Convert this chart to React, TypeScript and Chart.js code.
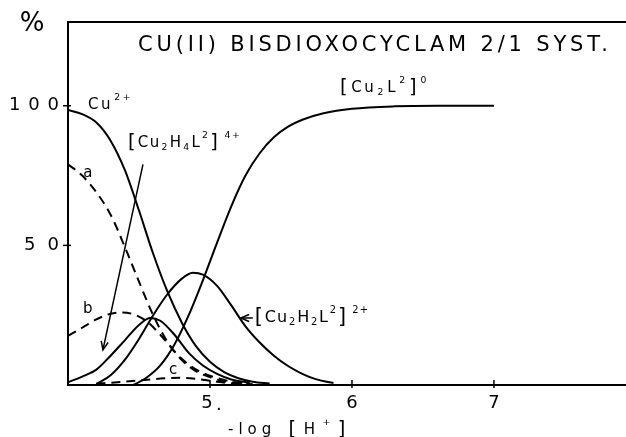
import React, { useEffect, useRef } from "react";
import { Chart, registerables } from "chart.js";

Chart.register(...registerables);

// ---- data (x = -log[H+], y = %) ----
const cuFreeX = [4.0, 4.1, 4.2, 4.3, 4.4, 4.5, 4.6, 4.7, 4.8, 4.9, 5.0, 5.1, 5.2, 5.3, 5.42];
const cuFreeY = [98.5, 97, 94, 87.5, 77, 62.5, 47, 33.5, 22.5, 14, 8.3, 4.6, 2.4, 1.2, 0.5];

const cu2L2X = [4.46, 4.55, 4.65, 4.75, 4.85, 4.95, 5.05, 5.15, 5.25, 5.35, 5.45, 5.55, 5.65, 5.8, 6.0, 6.3, 6.6, 7.0];
const cu2L2Y = [0, 2.5, 7, 14.5, 25, 37.5, 51, 64, 75, 83, 88.7, 92.5, 95, 97.3, 98.9, 99.8, 100, 100];

const cu2H2L2X = [4.2, 4.3, 4.4, 4.5, 4.6, 4.7, 4.8, 4.88, 4.95, 5.05, 5.15, 5.25, 5.35, 5.45, 5.55, 5.65, 5.75, 5.87];
const cu2H2L2Y = [0.3, 3.5, 9, 16.5, 25, 32.5, 38, 40.2, 39.5, 35.5, 28.5, 21, 15.2, 10.5, 6.8, 4, 2, 0.7];

const cu2H4L2X = [4.0, 4.1, 4.2, 4.3, 4.4, 4.5, 4.58, 4.65, 4.75, 4.85, 4.95, 5.05, 5.15, 5.28];
const cu2H4L2Y = [1, 3, 5.5, 10.5, 16, 21.5, 24, 23, 18, 11.5, 7, 4, 2, 0.8];

const curveAX = [4.0, 4.1, 4.2, 4.3, 4.4, 4.5, 4.6, 4.7, 4.8, 4.9, 5.0, 5.1, 5.3];
const curveAY = [79, 75, 69, 61, 49.5, 37, 25, 15.5, 9, 5, 2.8, 1.3, 0.3];

const curveBX = [4.0, 4.1, 4.2, 4.3, 4.38, 4.45, 4.55, 4.65, 4.75, 4.85, 4.95, 5.05, 5.15, 5.28];
const curveBY = [17.6, 20.5, 23.5, 25.5, 26, 25.5, 23, 18, 12, 7.3, 4.3, 2.5, 1.2, 0.5];

const curveCX = [4.2, 4.35, 4.5, 4.65, 4.8, 4.93, 5.05, 5.16, 5.28];
const curveCY = [0.5, 1, 1.6, 2.3, 2.6, 2, 1.2, 0.5, 0.2];

const xTicks = [5, 6, 7];
const xTickLabels = ["5.", "6", "7"];
const yTicks = [50, 100];
const yTickLabels = ["50", "100"];

const titleText = "CU(II) BISDIOXOCYCLAM 2/1 SYST.";
const xAxisTitle = "-log";
const yAxisTitle = "%";

const FONT = '"DejaVu Sans", "Liberation Sans", sans-serif';

type Part = [string, "n" | "sub" | "sup" | "br"];

function pts(xs: number[], ys: number[]) {
  return xs.map((x, i) => ({ x, y: ys[i] }));
}

function drawRich(ctx: CanvasRenderingContext2D, parts: Part[], x: number, y: number, size: number, spacing = 1.5) {
  let cx = x;
  ctx.textAlign = "left";
  ctx.textBaseline = "middle";
  for (const [t, k] of parts) {
    let fs = size;
    let dy = 0;
    if (k === "sub") { fs = size * 0.62; dy = size * 0.3; }
    else if (k === "sup") { fs = size * 0.62; dy = -size * 0.5; }
    else if (k === "br") { fs = size * 1.3; dy = 0; }
    ctx.font = `${fs}px ${FONT}`;
    (ctx as any).letterSpacing = `${spacing}px`;
    ctx.fillText(t, cx, y + dy);
    cx += ctx.measureText(t).width + spacing * 0.5;
  }
  (ctx as any).letterSpacing = "0px";
}

function drawFit(ctx: CanvasRenderingContext2D, text: string, left: number, right: number, y: number, size: number) {
  ctx.font = `${size}px ${FONT}`;
  (ctx as any).letterSpacing = "0px";
  const w = ctx.measureText(text).width;
  const sp = (right - left - w) / Math.max(1, text.length - 1);
  (ctx as any).letterSpacing = `${sp}px`;
  ctx.textAlign = "left";
  ctx.textBaseline = "middle";
  ctx.fillText(text, left, y);
  (ctx as any).letterSpacing = "0px";
}

function arrow(ctx: CanvasRenderingContext2D, x1: number, y1: number, x2: number, y2: number) {
  ctx.beginPath();
  ctx.moveTo(x1, y1);
  ctx.lineTo(x2, y2);
  ctx.stroke();
  const a = Math.atan2(y2 - y1, x2 - x1);
  const L = 9, w = 0.4;
  ctx.beginPath();
  ctx.moveTo(x2 - L * Math.cos(a - w), y2 - L * Math.sin(a - w));
  ctx.lineTo(x2, y2);
  ctx.lineTo(x2 - L * Math.cos(a + w), y2 - L * Math.sin(a + w));
  ctx.stroke();
}

const framePlugin = {
  id: "frame",
  afterDraw(chart: any) {
    const ctx: CanvasRenderingContext2D = chart.ctx;
    const { left, right, top, bottom } = chart.chartArea;
    const xs = chart.scales.x;
    const ys = chart.scales.y;
    const X = (v: number) => xs.getPixelForValue(v);
    const Y = (v: number) => ys.getPixelForValue(v);
    ctx.save();
    ctx.strokeStyle = "#000";
    ctx.fillStyle = "#000";
    ctx.lineWidth = 2;
    ctx.setLineDash([]);
    // frame: left, top, bottom
    ctx.beginPath();
    ctx.moveTo(right, top);
    ctx.lineTo(left, top);
    ctx.lineTo(left, bottom);
    ctx.lineTo(right, bottom);
    ctx.stroke();
    // x ticks
    ctx.lineWidth = 1.5;
    xTicks.forEach((v, i) => {
      const px = X(v);
      ctx.beginPath();
      ctx.moveTo(px, bottom - 5);
      ctx.lineTo(px, bottom + 3);
      ctx.stroke();
      ctx.font = `18px ${FONT}`;
      ctx.textAlign = "center";
      ctx.textBaseline = "middle";
      (ctx as any).letterSpacing = "0px";
      const lbl = xTickLabels[i];
      if (lbl.endsWith(".")) {
        ctx.textAlign = "center";
        ctx.fillText(lbl.slice(0, -1), px - 3, bottom + 18);
        ctx.textAlign = "left";
        ctx.fillText(".", px + 6, bottom + 20);
      } else {
        ctx.fillText(lbl, px, bottom + 18);
      }
    });
    // y ticks
    yTicks.forEach((v, i) => {
      const py = Y(v);
      ctx.beginPath();
      ctx.moveTo(left - 5, py);
      ctx.lineTo(left + 3, py);
      ctx.stroke();
      const lbl = yTickLabels[i];
      const w = lbl.length === 3 ? 50 : 35;
      drawFit(ctx, lbl, left - 9 - w, left - 9, py, 18);
    });
    // % sign
    ctx.font = `26px ${FONT}`;
    ctx.textAlign = "center";
    ctx.textBaseline = "middle";
    ctx.fillText(yAxisTitle, 32, 24);
    // title
    drawFit(ctx, titleText, 138, 608, 46, 21);
    // x axis title
    drawRich(ctx, [[xAxisTitle + " ", "n"], ["[", "br"], ["H", "n"], ["+", "sup"], ["]", "br"]], 228, bottom + 45, 15, 5);

    // series labels
    drawRich(ctx, [["[", "br"], ["Cu", "n"], ["2", "sub"], ["L", "n"], ["2", "sup"], ["]", "br"], ["0", "sup"]], X(4.0) + 272, 88, 15, 2.5);
    drawRich(ctx, [["Cu", "n"], ["2+", "sup"]], X(4.0) + 20, 105, 15, 2.5);
    drawRich(ctx, [["[", "br"], ["Cu", "n"], ["2", "sub"], ["H", "n"], ["4", "sub"], ["L", "n"], ["2", "sup"], ["]", "br"], [" 4+", "sup"]], X(4.0) + 60, 143, 15, 1.5);
    drawRich(ctx, [["[", "br"], ["Cu", "n"], ["2", "sub"], ["H", "n"], ["2", "sub"], ["L", "n"], ["2", "sup"], ["]", "br"], [" 2+", "sup"]], X(5.21) + 15, Y(24), 16, 1.2);
    ctx.font = `15px ${FONT}`;
    ctx.textAlign = "center";
    ctx.textBaseline = "middle";
    ctx.fillText("a", X(4.14), Y(76));
    ctx.fillText("b", X(4.14), Y(27));
    ctx.fillText("c", X(4.74), Y(5.5));

    // arrows
    ctx.lineWidth = 1.5;
    arrow(ctx, X(4.528), Y(79), X(4.246), Y(12.6));
    arrow(ctx, X(5.21) + 13, Y(24), X(5.21) + 1, Y(24));
    ctx.restore();
  },
};

export default function App() {
  const ref = useRef<HTMLCanvasElement | null>(null);
  useEffect(() => {
    document.body.style.margin = "0";
    const canvas = ref.current!;
    const solid = (data: any) => ({
      data,
      showLine: true,
      borderColor: "#000",
      borderWidth: 2,
      pointRadius: 0,
      cubicInterpolationMode: "monotone" as const,
      fill: false,
    });
    const dashed = (data: any) => ({ ...solid(data), borderDash: [9, 6] });
    const chart = new Chart(canvas, {
      type: "scatter",
      data: {
        datasets: [
          { label: "Cu2+", ...solid(pts(cuFreeX, cuFreeY)) },
          { label: "[Cu2L2]0", ...solid(pts(cu2L2X, cu2L2Y)) },
          { label: "[Cu2H2L2]2+", ...solid(pts(cu2H2L2X, cu2H2L2Y)) },
          { label: "[Cu2H4L2]4+", ...solid(pts(cu2H4L2X, cu2H4L2Y)) },
          { label: "a", ...dashed(pts(curveAX, curveAY)) },
          { label: "b", ...dashed(pts(curveBX, curveBY)) },
          { label: "c", ...dashed(pts(curveCX, curveCY)) },
        ],
      },
      options: {
        responsive: false,
        animation: false,
        devicePixelRatio: 1,
        layout: { padding: { left: 68, top: 22, right: 0, bottom: 52 } },
        scales: {
          x: { type: "linear", min: 4, max: 7.93, display: false },
          y: { type: "linear", min: 0, max: 130, display: false },
        },
        plugins: { legend: { display: false }, tooltip: { enabled: false } },
        events: [],
      },
      plugins: [framePlugin],
    });
    return () => chart.destroy();
  }, []);
  return <canvas ref={ref} width={626} height={437} style={{ display: "block" }} />;
}
